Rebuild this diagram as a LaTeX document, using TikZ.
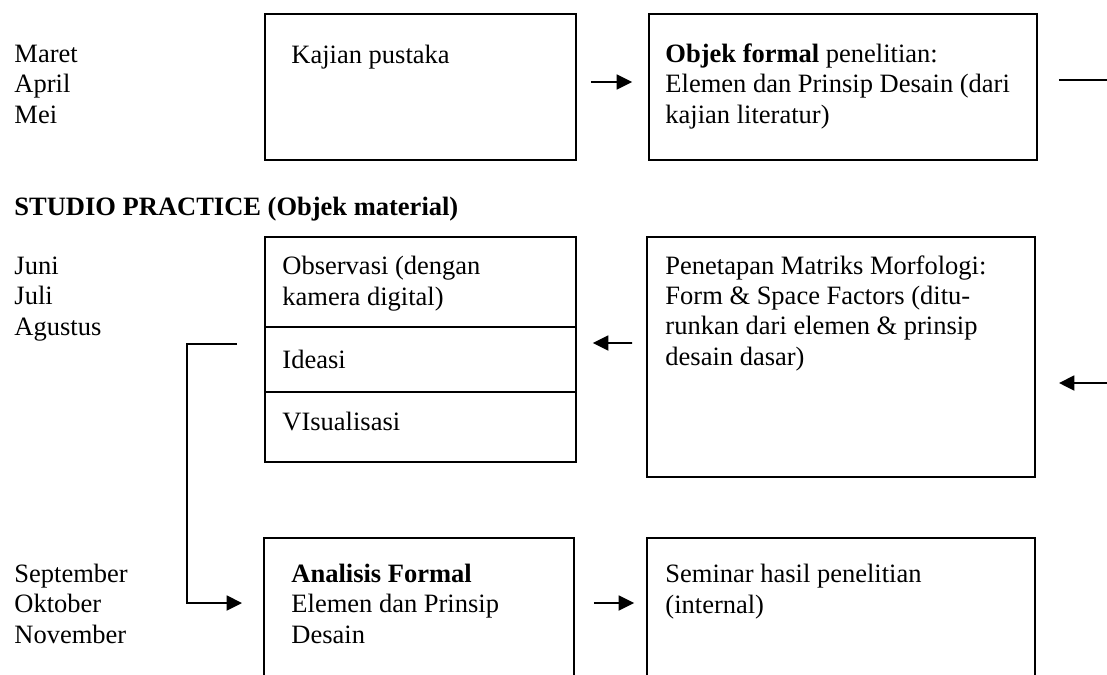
\documentclass[tikz,border=0pt]{standalone}
\usepackage{fontspec}
\setmainfont{Liberation Serif}
\usetikzlibrary{arrows.meta,fit,calc}

\begin{document}
\begin{tikzpicture}[%
x=0.4528pt, y=-0.4528pt,
box/.style={draw, line width=0.9pt, inner sep=0pt},
txt/.style={anchor=base west, inner sep=0pt, align=left, font=\fontsize{12}{13.6}\selectfont},
arr/.style={line width=0.8pt, -{Triangle[length=7pt, width=6.8pt]}},
]
\useasboundingbox (0,0) rectangle (1107,674);
\clip (0,0) rectangle (1107,674);
%% months (placed at the baseline of the last line);
\node[txt] (bulan1) at (14,123) {Maret\\April\\Mei};
\node[txt] (bulan2) at (14,335) {Juni\\Juli\\Agustus};
\node[txt] (bulan3) at (14,643) {September\\Oktober\\November};
%% heading;
\node[txt] (studio) at (14,215) {\textbf{STUDIO PRACTICE (Objek material)}};
%% box;
\node[box, fit={(265,14) (576,160)}] (kajian) {};
\node[txt] (kajiantxt) at (291,63) {Kajian pustaka};
%% box;
\node[box, fit={(649,14) (1037,160)}] (objek) {};
\node[txt] (objektxt) at (665,123) {\textbf{Objek formal} penelitian:\\Elemen dan Prinsip Desain (dari\\kajian literatur)};
%% box;
\node[box, fit={(265,237) (576,327)}] (observasi) {};
\node[txt] (observasitxt) at (282,305) {Observasi (dengan\\kamera digital)};
\node[box, fit={(265,327) (576,392)}] (ideasi) {};
\node[txt] (ideasitxt) at (282,368) {Ideasi};
\node[box, fit={(265,392) (576,462)}] (visual) {};
\node[txt] (visualtxt) at (282,430) {VIsualisasi};
%% box;
\node[box, fit={(647,237) (1035,477)}] (matriks) {};
\node[txt] (matrikstxt) at (665,365) {Penetapan Matriks Morfologi:\\Form \& Space Factors (ditu-\\runkan dari elemen \& prinsip\\desain dasar)};
%% box;
\node[box, fit={(264,538) (574,700)}] (analisis) {};
\node[txt] (analisistxt) at (291,643) {\textbf{Analisis Formal}\\Elemen dan Prinsip\\Desain};
%% box;
\node[box, fit={(647,538) (1035,700)}] (seminar) {};
\node[txt] (seminartxt) at (665,613) {Seminar hasil penelitian\\(internal)};
%% free ends;
\coordinate (keluar) at (1107,80);
\coordinate (masuk) at (1107,383);
%% arrows;
\draw[arr, shorten <=6.3pt, shorten >=7.2pt] ($(kajian.east)+(0,-5)$) -- ($(objek.west)+(0,-5)$);
\draw[line width=0.8pt, shorten <=9.5pt] (objek.east |- keluar) -- (keluar);
\draw[arr, shorten >=10.4pt] (masuk) -- (matriks.east |- masuk);
\draw[arr, shorten <=6.3pt, shorten >=7.2pt] ($(matriks.west)+(0,-14)$) -- ($(ideasi.east)+(0,-16.5)$);
\draw[arr, shorten >=9.5pt] ($(ideasi.west)+(-27,-15.5)$) -| ($(analisis.west)+(-76,-16)$) -- ($(analisis.west)+(0,-16)$);
\draw[arr, shorten <=8.6pt, shorten >=5.4pt] ($(analisis.east)+(0,-16)$) -- ($(seminar.west)+(0,-16)$);
\end{tikzpicture}
\end{document}
